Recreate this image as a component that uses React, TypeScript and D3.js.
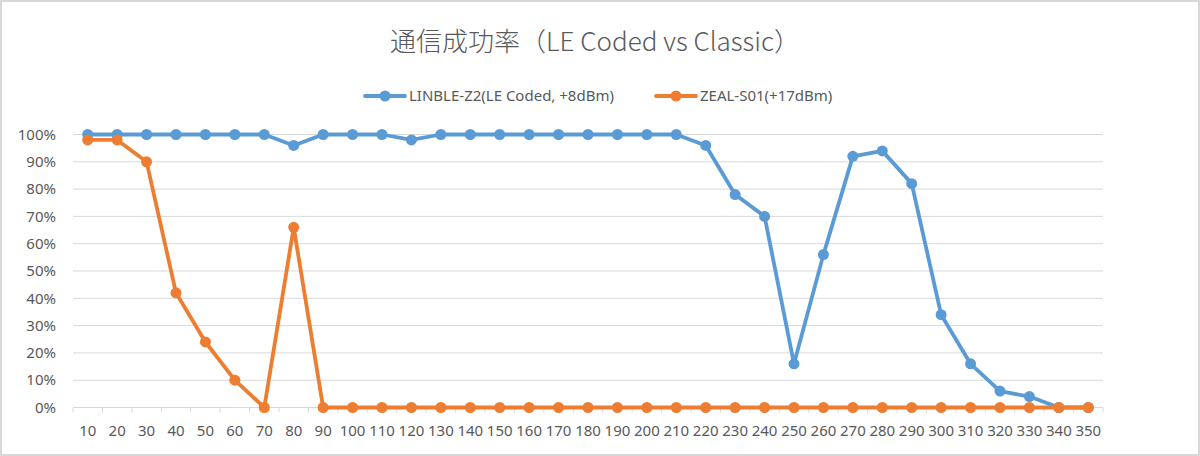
import { useEffect, useRef } from 'react';
import * as d3 from 'd3';

const distances = [10, 20, 30, 40, 50, 60, 70, 80, 90, 100, 110, 120, 130, 140, 150, 160, 170, 180, 190, 200, 210, 220, 230, 240, 250, 260, 270, 280, 290, 300, 310, 320, 330, 340, 350];
const linbleValues = [100, 100, 100, 100, 100, 100, 100, 96, 100, 100, 100, 98, 100, 100, 100, 100, 100, 100, 100, 100, 100, 96, 78, 70, 16, 56, 92, 94, 82, 34, 16, 6, 4, 0, 0];
const zealValues = [98, 98, 90, 42, 24, 10, 0, 66, 0, 0, 0, 0, 0, 0, 0, 0, 0, 0, 0, 0, 0, 0, 0, 0, 0, 0, 0, 0, 0, 0, 0, 0, 0, 0, 0];
const yTicks = [0, 10, 20, 30, 40, 50, 60, 70, 80, 90, 100];

const seriesList = [
  { name: 'LINBLE-Z2(LE Coded, +8dBm)', values: linbleValues, color: '#5B9BD5' },
  { name: 'ZEAL-S01(+17dBm)', values: zealValues, color: '#ED7D31' },
];

const W = 1200;
const H = 456;
const margin = { top: 134.5, right: 97, bottom: 48.5, left: 73 };
const labelFont = '"Noto Sans", sans-serif';

const App = () => {
  const svgRef = useRef<SVGSVGElement>(null);

  useEffect(() => {
    document.body.style.margin = '0';
    if (!svgRef.current) return;
    const svg = d3.select(svgRef.current);
    svg.selectAll('*').remove();

    svg.append('rect')
      .attr('x', 1).attr('y', 1)
      .attr('width', W - 2).attr('height', H - 2)
      .attr('fill', '#fff')
      .attr('stroke', '#d9d9d9')
      .attr('stroke-width', 2);

    const innerW = W - margin.left - margin.right;
    const innerH = H - margin.top - margin.bottom;
    const g = svg.append('g').attr('transform', `translate(${margin.left},${margin.top})`);

    const x = d3.scaleBand<number>().domain(distances).range([0, innerW]).padding(0);
    const y = d3.scaleLinear().domain([0, 100]).range([innerH, 0]);
    const cx = (d: number) => (x(d) || 0) + x.bandwidth() / 2;

    // grid
    g.selectAll('.grid')
      .data(yTicks.filter(t => t > 0))
      .enter().append('line')
      .attr('x1', 0).attr('x2', innerW)
      .attr('y1', d => y(d)).attr('y2', d => y(d))
      .attr('stroke', '#d9d9d9')
      .attr('stroke-width', 1);

    // y labels
    g.selectAll('.ylab')
      .data(yTicks)
      .enter().append('text')
      .attr('x', -17)
      .attr('y', d => y(d))
      .attr('dy', '0.35em')
      .attr('text-anchor', 'end')
      .attr('fill', '#595959')
      .style('font-family', labelFont)
      .style('font-size', '15px')
      .text(d => `${d}%`);

    // x axis
    g.append('line')
      .attr('x1', 0).attr('x2', innerW)
      .attr('y1', innerH).attr('y2', innerH)
      .attr('stroke', '#d9d9d9');
    const bounds = distances.map(d => x(d) || 0).concat([innerW]);
    g.selectAll('.xtick')
      .data(bounds)
      .enter().append('line')
      .attr('x1', d => d).attr('x2', d => d)
      .attr('y1', innerH).attr('y2', innerH + 5)
      .attr('stroke', '#d9d9d9');
    g.selectAll('.xlab')
      .data(distances)
      .enter().append('text')
      .attr('x', d => cx(d))
      .attr('y', innerH + 28)
      .attr('text-anchor', 'middle')
      .attr('fill', '#595959')
      .style('font-family', labelFont)
      .style('font-size', '15px')
      .text(d => d);

    // lines
    const line = d3.line<number>()
      .x((_, i) => cx(distances[i]))
      .y(v => y(v));

    seriesList.forEach(s => {
      g.append('path')
        .datum(s.values)
        .attr('d', line)
        .attr('fill', 'none')
        .attr('stroke', s.color)
        .attr('stroke-width', 3.8)
        .attr('stroke-linejoin', 'round')
        .attr('stroke-linecap', 'round');
      g.selectAll(null)
        .data(s.values)
        .enter().append('circle')
        .attr('cx', (_, i) => cx(distances[i]))
        .attr('cy', v => y(v))
        .attr('r', 5.5)
        .attr('fill', s.color);
    });

    // title
    svg.append('text')
      .attr('x', 595)
      .attr('y', 51)
      .attr('text-anchor', 'middle')
      .attr('fill', '#595959')
      .style('font-family', '"Noto Sans CJK JP", sans-serif')
      .style('font-size', '26px')
      .style('font-weight', 300)
      .text('通信成功率（LE Coded vs Classic）');

    // legend
    const legendX = [365, 656];
    seriesList.forEach((s, i) => {
      const lg = svg.append('g').attr('transform', `translate(${legendX[i]},96)`);
      lg.append('line')
        .attr('x1', 0).attr('x2', 40)
        .attr('stroke', s.color)
        .attr('stroke-width', 3.8)
        .attr('stroke-linecap', 'round');
      lg.append('circle').attr('cx', 20).attr('r', 5.5).attr('fill', s.color);
      lg.append('text')
        .attr('x', 44)
        .attr('dy', '0.35em')
        .attr('fill', '#595959')
        .style('font-family', labelFont)
        .style('font-size', '15px')
        .text(s.name);
    });
  }, []);

  return <svg ref={svgRef} width={W} height={H} style={{ display: 'block' }} />;
};

export default App;
